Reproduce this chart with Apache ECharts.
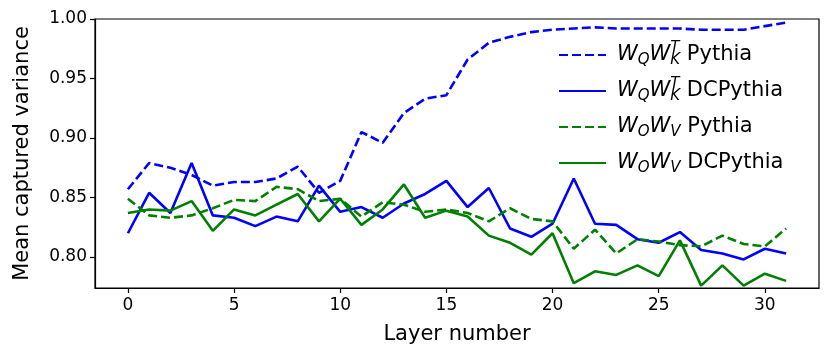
<!DOCTYPE html>
<html>
<head>
<meta charset="utf-8">
<script src="https://cdn.jsdelivr.net/npm/echarts@6/dist/echarts.min.js"></script>
<style>
  html, body { margin: 0; padding: 0; background: #fff; }
  #chart { width: 831px; height: 359px; }
</style>
</head>
<body>
<div id="chart"></div>
<script>
// layer index on x
const layers = [0, 1, 2, 3, 4, 5, 6, 7, 8, 9, 10, 11, 12, 13, 14, 15,
  16, 17, 18, 19, 20, 21, 22, 23, 24, 25, 26, 27, 28, 29, 30, 31]

// values
const qkPythia = [0.857, 0.879, 0.875, 0.869, 0.860, 0.863, 0.863, 0.866, 0.876, 0.854, 0.864, 0.905, 0.896, 0.921, 0.933, 0.936,
  0.966, 0.980, 0.985, 0.989, 0.991, 0.992, 0.993, 0.992, 0.992, 0.992, 0.992, 0.991, 0.991, 0.991, 0.994, 0.997]
const qkDCPythia = [0.820, 0.854, 0.837, 0.879, 0.835, 0.833, 0.826, 0.834, 0.830, 0.860, 0.838, 0.842, 0.833, 0.845, 0.853, 0.864,
  0.842, 0.858, 0.824, 0.817, 0.828, 0.866, 0.828, 0.827, 0.815, 0.812, 0.821, 0.806, 0.803, 0.798, 0.807, 0.803]
const ovPythia = [0.849, 0.835, 0.833, 0.835, 0.841, 0.848, 0.847, 0.859, 0.857, 0.847, 0.849, 0.834, 0.846, 0.844, 0.838, 0.840,
  0.837, 0.830, 0.841, 0.832, 0.830, 0.807, 0.823, 0.803, 0.815, 0.813, 0.810, 0.809, 0.818, 0.811, 0.809, 0.824]
const ovDCPythia = [0.837, 0.840, 0.839, 0.847, 0.822, 0.840, 0.835, 0.844, 0.853, 0.830, 0.849, 0.827, 0.840, 0.861, 0.833, 0.839,
  0.834, 0.818, 0.812, 0.802, 0.820, 0.778, 0.788, 0.785, 0.793, 0.784, 0.814, 0.776, 0.793, 0.776, 0.786, 0.780]

const xTicks = [0, 5, 10, 15, 20, 25, 30]
const yTicks = [0.80, 0.85, 0.90, 0.95, 1.00]

const FONT = 'DejaVu Sans'
const BLUE = '#0000ff'
const GREEN = '#008000'

// legend labels as rich text (math part italic)
const legendText = {
  qkP: '{w|W}{s|Q}{w|W}{t|T}{s|K}{n| Pythia}',
  qkD: '{w|W}{s|Q}{w|W}{t|T}{s|K}{n| DCPythia}',
  ovP: '{w|W}{s|O}{w|W}{s|V}{n| Pythia}',
  ovD: '{w|W}{s|O}{w|W}{s|V}{n| DCPythia}'
}

function pairs(values) {
  return layers.map((x, i) => [x, values[i]])
}

function makeSeries(name, values, color, dashed) {
  return {
    name: name,
    type: 'line',
    data: pairs(values),
    symbol: 'none',
    lineStyle: {
      color: color,
      width: 2.6,
      type: dashed ? [9, 4] : 'solid'
    },
    itemStyle: { color: color },
    emphasis: { disabled: true }
  }
}

const chart = echarts.init(document.getElementById('chart'))

chart.setOption({
  animation: false,
  grid: {
    left: 95,
    right: 12,
    top: 19,
    bottom: 71,
    show: true,
    borderColor: '#000',
    borderWidth: 1.2,
    backgroundColor: '#fff'
  },
  legend: {
    orient: 'vertical',
    left: 553,
    top: 35,
    itemWidth: 47,
    itemHeight: 14,
    itemGap: 6,
    selectedMode: false,
    itemStyle: { opacity: 0 },
    formatter: name => legendText[name],
    textStyle: {
      fontFamily: FONT,
      fontSize: 21,
      color: '#000',
      lineHeight: 30,
      padding: [0, 0, 0, 6],
      rich: {
        w: { fontFamily: FONT, fontSize: 21, fontStyle: 'italic', color: '#000' },
        s: { fontFamily: FONT, fontSize: 15, fontStyle: 'italic', color: '#000', padding: [11, 0, 0, 0] },
        t: { fontFamily: FONT, fontSize: 15, fontStyle: 'italic', color: '#000', width: 0, padding: [0, 0, 14, 0] },
        n: { fontFamily: FONT, fontSize: 21, color: '#000' }
      }
    }
  },
  xAxis: {
    type: 'value',
    min: -1.55,
    max: 32.55,
    name: 'Layer number',
    nameLocation: 'middle',
    nameGap: 36,
    nameTextStyle: { fontFamily: FONT, fontSize: 21, color: '#000' },
    axisLine: { show: true, onZero: false, lineStyle: { color: '#000', width: 1.2 } },
    splitLine: { show: false },
    axisTick: {
      show: true,
      length: 5,
      customValues: xTicks,
      lineStyle: { color: '#000', width: 1.2 }
    },
    axisLabel: {
      customValues: xTicks,
      margin: 9,
      fontFamily: FONT,
      fontSize: 17,
      color: '#000'
    }
  },
  yAxis: {
    type: 'value',
    min: 0.774,
    max: 1.0,
    name: 'Mean captured variance',
    nameLocation: 'middle',
    nameGap: 62,
    nameTextStyle: { fontFamily: FONT, fontSize: 21, color: '#000' },
    axisLine: { show: true, onZero: false, lineStyle: { color: '#000', width: 1.2 } },
    splitLine: { show: false },
    axisTick: {
      show: true,
      length: 5,
      customValues: yTicks,
      lineStyle: { color: '#000', width: 1.2 }
    },
    axisLabel: {
      customValues: yTicks,
      margin: 8,
      fontFamily: FONT,
      fontSize: 17,
      color: '#000',
      formatter: v => v.toFixed(2)
    }
  },
  series: [
    makeSeries('qkP', qkPythia, BLUE, true),
    makeSeries('qkD', qkDCPythia, BLUE, false),
    makeSeries('ovP', ovPythia, GREEN, true),
    makeSeries('ovD', ovDCPythia, GREEN, false)
  ]
})
</script>
</body>
</html>
